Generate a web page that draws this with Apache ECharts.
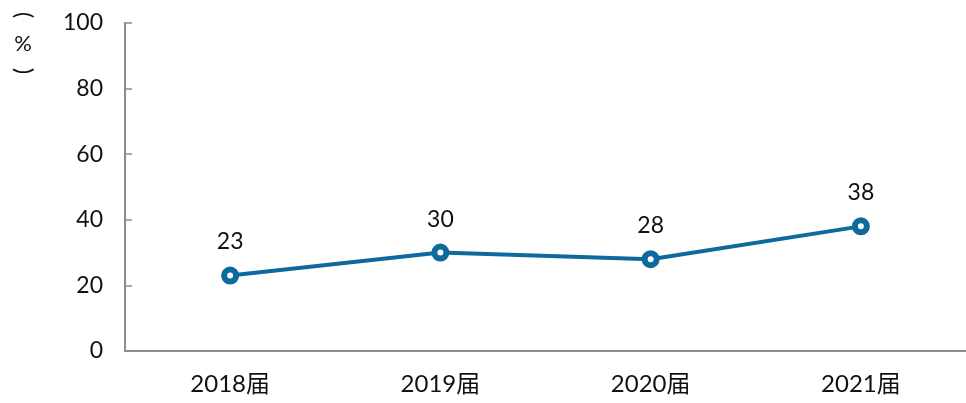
<!DOCTYPE html>
<html>
<head>
<meta charset="utf-8">
<script src="https://cdn.jsdelivr.net/npm/echarts@6/dist/echarts.min.js"></script>
<style>
  html, body { margin: 0; padding: 0; background: #ffffff; }
  #chart { width: 966px; height: 403px; }
</style>
</head>
<body>
<div id="chart"></div>
<script>
// Graduating cohorts and their share (%)
const categories = ['2018届', '2019届', '2020届', '2021届'];
const values = [23, 30, 28, 38];
const yTicks = { min: 0, max: 100, interval: 20 };

const fontFamily = 'Lato, "Noto Sans CJK SC", sans-serif';
const axisColor = '#8c8c8c';
const lineColor = '#0e6a9c';

// Vertical unit caption "(%)": each glyph placed on its own, brackets turned sideways
function captionGlyph(text, x, y, rotation, size) {
  return {
    type: 'text',
    x: x,
    y: y,
    rotation: rotation,
    style: {
      text: text,
      x: 0,
      y: 0,
      fontSize: size,
      fill: '#111',
      align: 'center',
      verticalAlign: 'middle',
      fontFamily: fontFamily
    }
  };
}

const chart = echarts.init(document.getElementById('chart'));
chart.setOption({
  animation: false,
  grid: { left: 125, right: -4, top: 23, bottom: 52 },
  xAxis: {
    type: 'category',
    data: categories,
    boundaryGap: true,
    axisLine: { lineStyle: { color: axisColor, width: 2 } },
    axisTick: { inside: true, length: 9, lineStyle: { color: axisColor, width: 1.5 } },
    axisLabel: { color: '#111', fontSize: 24, fontFamily: fontFamily, margin: 21 }
  },
  yAxis: {
    type: 'value',
    min: yTicks.min,
    max: yTicks.max,
    interval: yTicks.interval,
    splitLine: { show: false },
    axisLine: { show: true, lineStyle: { color: axisColor, width: 2 } },
    axisTick: { show: true, inside: true, length: 7, lineStyle: { color: axisColor, width: 1.5 } },
    axisLabel: { color: '#111', fontSize: 23, fontFamily: fontFamily, margin: 22 }
  },
  graphic: [
    captionGlyph('(', 23, 15, -Math.PI / 2, 23),
    captionGlyph('%', 23, 44, 0, 22),
    captionGlyph(')', 23, 71, -Math.PI / 2, 23)
  ],
  series: [{
    type: 'line',
    data: values,
    symbol: 'circle',
    symbolSize: 12,
    lineStyle: { color: lineColor, width: 4 },
    itemStyle: { color: '#ffffff', borderColor: lineColor, borderWidth: 6 },
    label: {
      show: true,
      position: 'top',
      distance: 13,
      color: '#111',
      fontSize: 23,
      fontFamily: fontFamily
    }
  }]
});
</script>
</body>
</html>
